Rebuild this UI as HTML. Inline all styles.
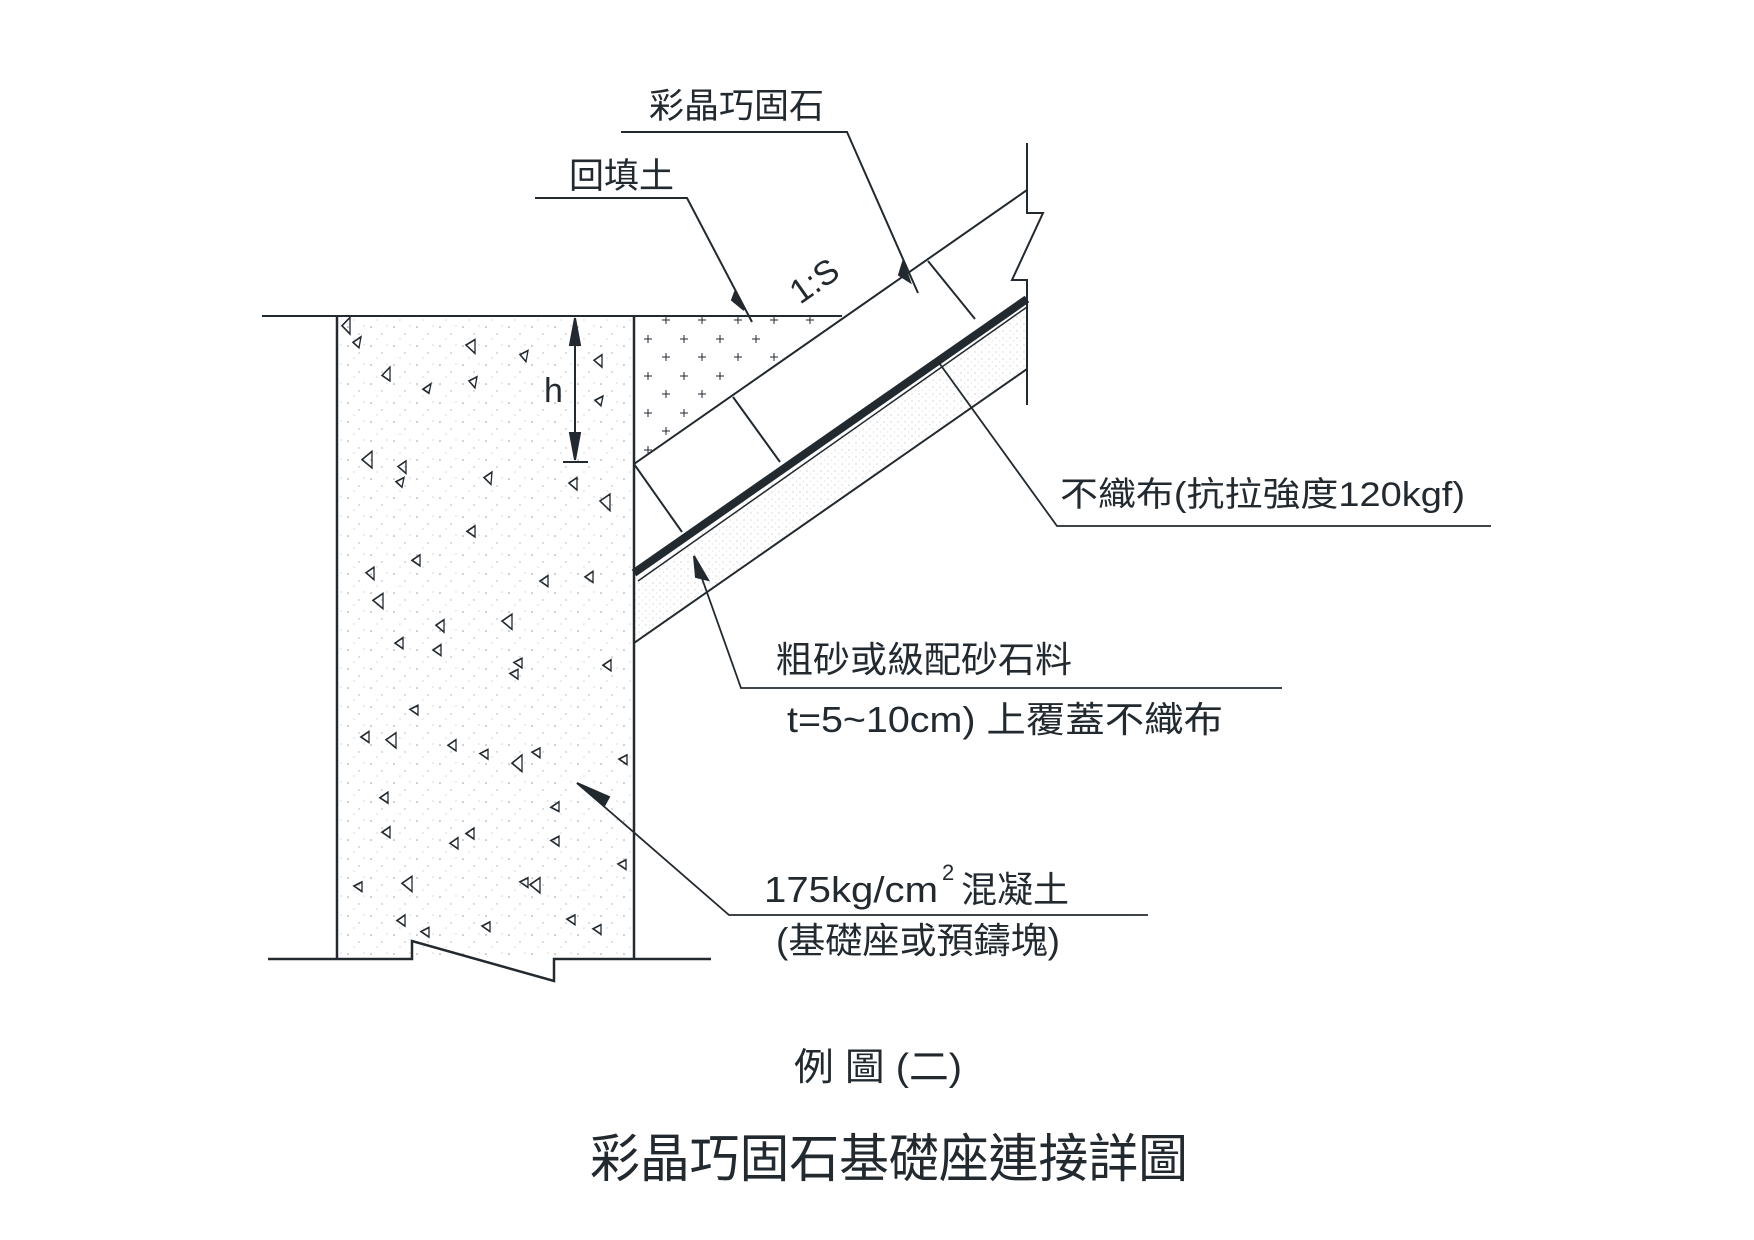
<!DOCTYPE html>
<html><head><meta charset="utf-8"><style>
html,body{margin:0;padding:0;background:#fff;}
svg{display:block;}
text{font-family:"Liberation Sans","Noto Sans CJK TC",sans-serif;fill:#222a30;}
</style></head><body>
<svg width="1754" height="1240" viewBox="0 0 1754 1240" xmlns="http://www.w3.org/2000/svg">
<defs>
<pattern id="dots" width="23" height="19" patternUnits="userSpaceOnUse">
<circle cx="3" cy="4" r="0.8" fill="#999"/><circle cx="14" cy="11" r="0.7" fill="#aaa"/><circle cx="9" cy="16" r="0.6" fill="#bbb"/><circle cx="19" cy="3" r="0.6" fill="#bbb"/>
</pattern>
<pattern id="sand" width="7" height="7" patternUnits="userSpaceOnUse">
<circle cx="2" cy="2" r="0.6" fill="#bbb"/><circle cx="5.5" cy="5" r="0.5" fill="#ccc"/>
</pattern>
</defs>
<g stroke="#222a30" fill="none" stroke-width="2">
<rect x="337" y="316" width="297" height="643" fill="url(#dots)" stroke="none"/>
<polygon points="634,580 1027,306 1027,369 634,643" fill="url(#sand)" stroke="none"/>
<line x1="262" y1="316" x2="842" y2="316"/>
<line x1="337" y1="316" x2="337" y2="959" stroke-width="2.5"/>
<line x1="634" y1="316" x2="634" y2="959" stroke-width="2.5"/>
<polyline points="268,959 412,959 412,941 554,981 554,959 711,959" stroke-width="2.5"/>
<!-- slope lines -->
<line x1="634" y1="464" x2="1027" y2="190"/>
<line x1="634" y1="573" x2="1027" y2="299" stroke-width="8"/>
<line x1="638" y1="581" x2="1027" y2="307" stroke-width="1.5"/>
<line x1="634" y1="643" x2="1027" y2="369"/>
<polyline points="1027,143 1027,213 1043,213 1012,280 1027,280 1027,405"/>
<!-- joints -->
<line x1="733" y1="397" x2="780" y2="462"/>
<line x1="928" y1="261" x2="975" y2="319"/>
<line x1="634" y1="464" x2="682" y2="532"/>
<!-- leaders -->
<polyline points="535,198 687,198 752,322"/>
<polygon points="735,292 744,310 732,300" fill="#222a30"/>
<polyline points="621,132 847,132 918,293"/>
<polygon points="903,262 910,282 899,275" fill="#222a30"/>
<polyline points="937,360 1057,526 1491,526" stroke-width="1.8"/>
<polyline points="694,556 741,688 1282,688" stroke-width="1.8"/>
<polygon points="694,556 708,580 696,577" fill="#222a30"/>
<polyline points="577,783 729,915 1148,915" stroke-width="1.8"/>
<polygon points="577,783 609,797 604,806" fill="#222a30"/>
<line x1="575" y1="318" x2="575" y2="460"/>
<polygon points="575,318 570,345 580,345" fill="#222a30"/>
<polygon points="575,460 570,433 580,433" fill="#222a30"/>
<line x1="563" y1="462" x2="588" y2="462"/>
</g>
<g stroke="#222a30" stroke-width="1">
<path d="M662,320h8M666,316v8 M698,320h8M702,316v8 M734,320h8M738,316v8 M770,320h8M774,316v8 M806,320h8M810,316v8
M644,339h8M648,335v8 M680,339h8M684,335v8 M716,339h8M720,335v8 M752,339h8M756,335v8
M662,357h8M666,353v8 M698,357h8M702,353v8 M734,357h8M738,353v8 M770,357h8M774,353v8
M644,376h8M648,372v8 M680,376h8M684,372v8 M716,376h8M720,372v8
M662,394h8M666,390v8 M698,394h8M702,390v8
M644,413h8M648,409v8 M680,413h8M684,409v8
M662,431h8M666,427v8 M644,450h8M648,446v8"/>
</g>
<g stroke="#222a30" stroke-width="1.3" fill="none" transform="translate(0,-120) scale(1,1.38)">
<path d="M342,323l8,-6l0,12z M353,335l8,-4l-2,8z M382,359l8,-6l0,10z M423,369l8,-4l-2,7z M466,337l9,-4l0,10z M469,363l8,-3l-2,8z M520,344l8,-3l-2,8z M594,348l8,-4l0,9z M595,377l8,-3l-2,7z M362,420l10,-6l0,12z M398,425l8,-4l0,9z M396,436l8,-3l-2,7z M484,433l8,-4l-1,9z M569,437l8,-4l0,9z M600,450l10,-5l0,12z M467,472l8,-4l0,8z M366,502l8,-4l0,9z M412,493l8,-4l0,8z M373,522l10,-5l0,11z M436,540l8,-4l0,9z M502,537l10,-5l0,11z M540,508l8,-4l0,8z M585,505l8,-4l0,8z M395,553l8,-4l0,8z M433,558l8,-4l0,8z M514,567l8,-3l0,7z M510,575l8,-3l0,7z M603,569l8,-4l0,8z M410,601l8,-3l0,7z M361,621l8,-4l0,8z M386,623l10,-5l0,11z M448,627l8,-4l0,8z M480,633l8,-3l0,7z M512,640l10,-6l0,12z M532,632l8,-3l0,7z M619,637l8,-3l0,7z M380,665l8,-4l0,8z M382,690l8,-4l0,8z M450,698l8,-4l0,8z M466,691l8,-4l0,8z M551,672l8,-4l0,7z M551,696l8,-3l0,7z M618,713l8,-3l0,7z M354,729l8,-3l0,7z M402,727l10,-5l0,11z M520,726l8,-3l0,7z M530,728l10,-5l0,11z M397,754l8,-4l0,8z M421,762l8,-3l0,7z M482,758l8,-3l0,7z M567,753l8,-3l0,7z M593,760l8,-3l0,7z"/>
</g>
<text x="649" y="118" font-size="35">彩晶巧固石</text>
<text x="569" y="188" font-size="35">回填土</text>
<text transform="translate(800,305) rotate(-35)" font-size="34">1:S</text>
<text x="544" y="402" font-size="34">h</text>
<text x="1060" y="506" font-size="34" textLength="405" lengthAdjust="spacingAndGlyphs">不織布(抗拉強度120kgf)</text>
<text x="776" y="672" font-size="36" textLength="296" lengthAdjust="spacingAndGlyphs">粗砂或級配砂石料</text>
<text x="787" y="732" font-size="36" textLength="436" lengthAdjust="spacingAndGlyphs">t=5~10cm) 上覆蓋不織布</text>
<text x="764" y="902" font-size="36" textLength="174" lengthAdjust="spacingAndGlyphs">175kg/cm</text>
<text x="942" y="880" font-size="22">2</text>
<text x="961" y="902" font-size="36">混凝土</text>
<text x="776" y="953" font-size="36" textLength="284" lengthAdjust="spacingAndGlyphs">(基礎座或預鑄塊)</text>
<text x="794" y="1080" font-size="38" textLength="168" lengthAdjust="spacingAndGlyphs">例 圖 (二)</text>
<text x="590" y="1177" font-size="52" textLength="598" lengthAdjust="spacingAndGlyphs">彩晶巧固石基礎座連接詳圖</text>
</svg>
</body></html>
